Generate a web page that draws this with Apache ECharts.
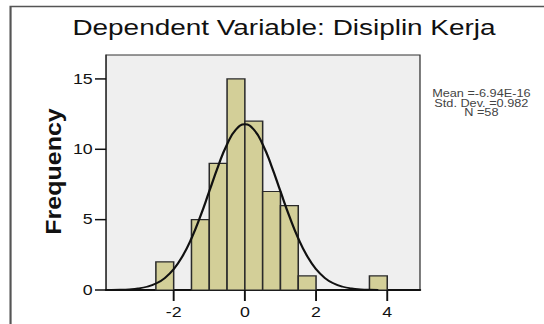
<!DOCTYPE html>
<html>
<head>
<meta charset="utf-8">
<script src="https://cdn.jsdelivr.net/npm/echarts@6/dist/echarts.min.js"></script>
<style>
  html, body { margin: 0; padding: 0; background: #ffffff; overflow: hidden; width: 544px; height: 324px; }
  #chart { width: 429px; height: 324px; transform: scaleX(1.27); transform-origin: 0 0; }
</style>
</head>
<body>
<div id="chart"></div>
<script>
// ---- data ----
const titleText = 'Dependent Variable: Disiplin Kerja';
const yName = 'Frequency';
const statsLines = ['Mean =-6.94E-16', 'Std. Dev. =0.982', 'N =58'];
const binLow  = [-2.5, -1.5, -1.0, -0.5, 0.0, 0.5, 1.0, 1.5, 3.5];
const binHigh = [-2.0, -1.0, -0.5, 0.0, 0.5, 1.0, 1.5, 2.0, 4.0];
const counts  = [2, 5, 9, 15, 12, 7, 6, 1, 1];
const curveX = [-3.75, -3.5, -3.25, -3.0, -2.75, -2.5, -2.25, -2.0, -1.75, -1.5, -1.25, -1.0, -0.75, -0.5, -0.25,
                0, 0.25, 0.5, 0.75, 1.0, 1.25, 1.5, 1.75, 2.0, 2.25, 2.5, 2.75, 3.0, 3.25, 3.5, 3.75];
const curveY = [0.01, 0.02, 0.05, 0.11, 0.23, 0.46, 0.85, 1.48, 2.41, 3.67, 5.24, 7.01, 8.80, 10.35, 11.40,
                11.78, 11.40, 10.35, 8.80, 7.01, 5.24, 3.67, 2.41, 1.48, 0.85, 0.46, 0.23, 0.11, 0.05, 0.02, 0.01];
const xTicks = [-2, 0, 2, 4];
const yTicks = [0, 5, 10, 15];

const X_MIN = -3.9, X_MAX = 4.92, Y_MIN = 0, Y_MAX = 16.7;
const FONT = '"Liberation Sans", Arial, sans-serif';
const chart = echarts.init(document.getElementById('chart'), null, { renderer: 'svg' });

const barData = binLow.map((lo, i) => [lo, binHigh[i], counts[i]]);
const curveData = curveX.map((x, i) => [x, curveY[i]]);

chart.setOption({
  animation: false,
  backgroundColor: '#ffffff',
  grid: {
    left: 83.5, top: 55, width: 247.2, height: 235,
    show: true, backgroundColor: '#efefef', borderColor: '#333333', borderWidth: 1
  },
  xAxis: {
    type: 'value', min: X_MIN, max: X_MAX,
    splitLine: { show: false },
    axisLine: { show: true, onZero: false, lineStyle: { color: '#111111', width: 2 } },
    axisTick: { show: false },
    axisLabel: { customValues: xTicks, margin: 15, fontSize: 14, color: '#111111', fontFamily: FONT }
  },
  yAxis: {
    type: 'value', min: Y_MIN, max: Y_MAX,
    splitLine: { show: false },
    axisLine: { show: true, onZero: false, lineStyle: { color: '#333333', width: 1 } },
    axisTick: { show: false },
    axisLabel: { customValues: yTicks, margin: 10.5, fontSize: 14, color: '#111111', fontFamily: FONT }
  },
  series: [
    {
      type: 'custom',
      data: barData,
      encode: { x: [0, 1], y: 2 },
      renderItem: function (params, api) {
        const p0 = api.coord([api.value(0), api.value(2)]);
        const p1 = api.coord([api.value(1), 0]);
        return {
          type: 'rect',
          shape: { x: p0[0], y: p0[1], width: p1[0] - p0[0], height: p1[1] - p0[1] },
          style: { fill: '#d3cf98', stroke: '#2a2a2a', lineWidth: 1.2 }
        };
      },
      z: 2
    },
    {
      type: 'line',
      data: curveData,
      smooth: true,
      showSymbol: false,
      lineStyle: { color: '#111111', width: 1.8 },
      z: 3
    },
    {
      // x-axis tick marks, placed through the x scale
      type: 'custom',
      clip: false,
      data: xTicks.map(v => [v, Y_MIN]),
      encode: { x: 0, y: 1 },
      renderItem: function (params, api) {
        const p = api.coord([api.value(0), api.value(1)]);
        return { type: 'line', shape: { x1: p[0], y1: p[1], x2: p[0], y2: p[1] + 11 },
                 style: { stroke: '#111111', lineWidth: 1.5 } };
      },
      z: 4
    },
    {
      // y-axis tick marks, placed through the y scale
      type: 'custom',
      clip: false,
      data: yTicks.map(v => [X_MIN, v]),
      encode: { x: 0, y: 1 },
      renderItem: function (params, api) {
        const p = api.coord([api.value(0), api.value(1)]);
        return { type: 'line', shape: { x1: p[0] - 8.7, y1: p[1], x2: p[0], y2: p[1] },
                 style: { stroke: '#111111', lineWidth: 1.5 } };
      },
      z: 4
    }
  ],
  graphic: [
    {
      type: 'rect', silent: true,
      shape: { x: 8.3, y: 6.5, width: 700, height: 500 },
      style: { fill: 'none', stroke: '#555555', lineWidth: 1.7 }
    },
    {
      type: 'text', x: 223.6, y: 27,
      style: { text: titleText, fontSize: 22, fontFamily: FONT, fill: '#111111', align: 'center', verticalAlign: 'middle' }
    },
    {
      type: 'text', x: 42, y: 171.5, rotation: Math.PI / 2, scaleX: 1.39, scaleY: 1,
      style: { text: yName, fontSize: 18, fontWeight: 'bold', fontFamily: FONT, fill: '#111111', align: 'center', verticalAlign: 'middle' }
    },
    {
      type: 'text', x: 379, y: 103.2,
      style: { text: statsLines.join('\n'), fontSize: 10, lineHeight: 9.7, fontFamily: FONT, fill: '#444444',
               align: 'center', verticalAlign: 'middle' }
    }
  ]
});
</script>
</body>
</html>
